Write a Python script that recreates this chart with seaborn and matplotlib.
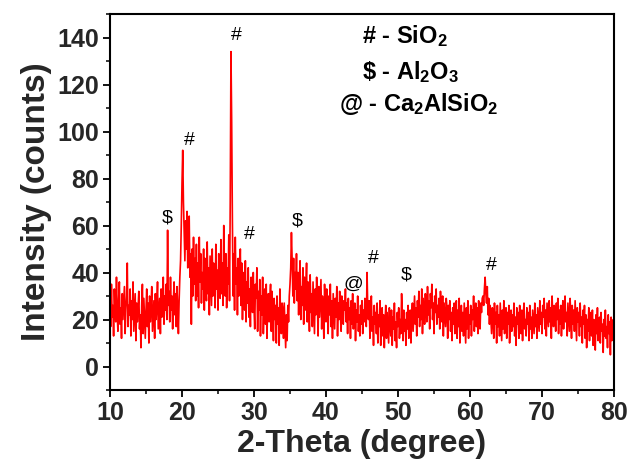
import numpy as np
import pandas as pd
import matplotlib
matplotlib.use("Agg")
import matplotlib.pyplot as plt
import seaborn as sns
from matplotlib.ticker import MultipleLocator

# 2-theta grid: 10 to 80 degrees, one reading every 0.1 degree
two_theta = np.round(np.linspace(10.0, 80.0, 701), 1)

# intensity, 10 readings per line (1 degree)
intensity = [
    30, 17, 35, 21, 26, 13, 33, 24, 19, 38,   # 10
    22, 15, 29, 36, 18, 25, 12, 31, 20, 27,   # 11
    34, 14, 24, 30, 44, 17, 26, 22, 33, 13,   # 12
    28, 20, 36, 15, 23, 31, 11, 27, 19, 25,   # 13
    32, 16, 22, 8, 26, 35, 14, 29, 21, 12,    # 14
    24, 33, 17, 27, 10, 30, 19, 25, 34, 15,   # 15
    22, 28, 12, 31, 20, 26, 36, 16, 23, 29,   # 16
    14, 33, 21, 27, 38, 18, 30, 24, 35, 20,   # 17
    58, 26, 32, 19, 38, 24, 30, 16, 28, 36,   # 18
    22, 31, 17, 34, 25, 14, 28, 38, 45, 60,   # 19
    78, 92, 70, 58, 45, 62, 50, 66, 42, 55,   # 20
    64, 38, 48, 18, 50, 30, 55, 35, 46, 28,   # 21
    52, 30, 44, 25, 55, 36, 48, 27, 40, 33,   # 22
    50, 24, 46, 34, 28, 53, 31, 42, 22, 47,   # 23
    36, 26, 50, 30, 44, 38, 25, 52, 33, 41,   # 24
    24, 48, 35, 29, 54, 31, 44, 26, 60, 37,   # 25
    30, 48, 25, 42, 35, 56, 28, 70, 134, 104, # 26
    62, 30, 48, 24, 55, 35, 42, 22, 46, 30,   # 27
    38, 50, 26, 44, 20, 40, 31, 24, 45, 19,   # 28
    36, 27, 42, 21, 33, 17, 38, 28, 23, 40,   # 29
    25, 16, 35, 29, 42, 15, 32, 24, 37, 13,   # 30
    30, 22, 38, 14, 27, 33, 18, 35, 12, 26,   # 31
    31, 19, 28, 35, 15, 32, 24, 11, 29, 20,   # 32
    26, 10, 30, 18, 25, 9, 33, 21, 14, 27,    # 33
    24, 12, 27, 17, 8, 22, 11, 26, 19, 30,    # 34
    35, 42, 57, 45, 30, 46, 27, 40, 33, 48,   # 35
    28, 40, 22, 37, 45, 20, 34, 26, 42, 18,   # 36
    38, 24, 33, 44, 19, 36, 27, 15, 39, 23,   # 37
    31, 17, 36, 25, 14, 33, 22, 38, 28, 13,   # 38
    34, 21, 29, 37, 16, 30, 24, 12, 35, 26,   # 39
    19, 33, 27, 14, 30, 22, 35, 17, 28, 12,   # 40
    31, 24, 16, 29, 21, 34, 13, 27, 20, 32,   # 41
    22, 15, 30, 26, 18, 28, 24, 33, 19, 27,   # 42
    14, 29, 20, 25, 12, 28, 18, 31, 16, 23,   # 43
    27, 11, 24, 19, 30, 15, 22, 13, 26, 18,   # 44
    28, 14, 24, 19, 29, 22, 17, 40, 25, 20,   # 45
    28, 12, 24, 30, 15, 21, 9, 26, 18, 23,    # 46
    14, 27, 10, 22, 17, 28, 9, 20, 25, 13,    # 47
    22, 8, 19, 26, 12, 23, 16, 10, 25, 18,    # 48
    13, 24, 9, 21, 16, 27, 11, 19, 8, 23,     # 49
    17, 25, 12, 20, 14, 31, 22, 11, 24, 15,   # 50
    20, 9, 23, 16, 26, 12, 19, 24, 10, 21,    # 51
    27, 15, 23, 30, 18, 25, 13, 28, 21, 32,   # 52
    17, 26, 20, 33, 14, 29, 23, 18, 31, 24,   # 53
    19, 34, 22, 28, 16, 31, 25, 35, 20, 27,   # 54
    14, 30, 23, 33, 18, 26, 21, 29, 16, 32,   # 55
    24, 19, 30, 13, 27, 22, 17, 29, 25, 12,   # 56
    26, 20, 28, 15, 23, 11, 25, 18, 27, 14,   # 57
    22, 28, 12, 24, 17, 29, 10, 21, 26, 15,   # 58
    23, 13, 27, 19, 10, 25, 16, 28, 12, 22,   # 59
    18, 26, 13, 24, 20, 30, 15, 22, 27, 17,   # 60
    25, 14, 28, 21, 16, 27, 23, 29, 30, 26,   # 61
    33, 38, 31, 27, 34, 22, 29, 18, 26, 20,   # 62
    14, 25, 21, 12, 27, 18, 23, 10, 26, 17,   # 63
    22, 13, 27, 19, 11, 24, 16, 28, 14, 21,   # 64
    25, 12, 23, 18, 26, 10, 20, 24, 15, 22,   # 65
    17, 27, 13, 21, 9, 25, 18, 23, 12, 26,    # 66
    19, 14, 24, 11, 22, 27, 16, 20, 13, 25,   # 67
    18, 23, 11, 26, 16, 21, 12, 24, 19, 14,   # 68
    27, 17, 22, 12, 25, 20, 15, 28, 18, 23,   # 69
    14, 26, 21, 29, 16, 24, 13, 27, 22, 17,   # 70
    28, 19, 25, 12, 30, 21, 17, 26, 23, 15,   # 71
    27, 20, 29, 14, 24, 18, 26, 13, 22, 28,   # 72
    16, 25, 30, 19, 23, 13, 27, 21, 15, 29,   # 73
    22, 12, 26, 18, 24, 15, 28, 20, 11, 25,   # 74
    19, 23, 13, 27, 17, 21, 10, 24, 18, 26,   # 75
    12, 22, 8, 20, 15, 25, 11, 23, 17, 13,    # 76
    24, 9, 20, 16, 7, 22, 14, 25, 11, 19,     # 77
    21, 10, 23, 15, 18, 6, 20, 13, 24, 12,    # 78
    17, 8, 22, 14, 19, 5, 21, 11, 16, 20,     # 79
    12,                                        # 80
]

# phase markers above the peaks
peak_symbols = ["$", "#", "#", "#", "$", "@", "#", "$", "#"]
peak_x = [17.9, 21.0, 27.5, 29.3, 36.0, 43.8, 46.6, 51.2, 62.9]
peak_y = [63, 96, 141, 56, 62, 35, 46, 39, 43]

legend_lines = ["# - SiO$_2$", "\\$ - Al$_2$O$_3$", "@ - Ca$_2$AlSiO$_2$"]
legend_x = [45.05, 45.05, 41.85]
legend_y = [140.7, 125.4, 111.7]

sns.set_theme(style="ticks")
plt.rcParams["font.family"] = ["Liberation Sans", "DejaVu Sans"]
plt.rcParams["mathtext.fontset"] = "custom"
plt.rcParams["mathtext.rm"] = "Liberation Sans:bold"
plt.rcParams["mathtext.bf"] = "Liberation Sans:bold"
plt.rcParams["mathtext.default"] = "bf"

df = pd.DataFrame({"two_theta": two_theta, "intensity": intensity})

fig = plt.figure(figsize=(6.3, 4.61), dpi=100)
ax = fig.add_axes([0.1746, 0.154, 0.80, 0.8156])

sns.lineplot(data=df, x="two_theta", y="intensity", color="red",
             linewidth=1.2, errorbar=None, ax=ax)

ax.set_xlim(10, 80)
ax.set_ylim(-10, 150)
ax.xaxis.set_major_locator(MultipleLocator(10))
ax.xaxis.set_minor_locator(MultipleLocator(5))
ax.yaxis.set_major_locator(MultipleLocator(20))
ax.yaxis.set_minor_locator(MultipleLocator(10))
ax.tick_params(which="major", direction="out", length=5, width=1.3,
               labelsize=18, color="black", pad=3)
ax.tick_params(which="minor", direction="out", length=3, width=1.1, color="black")
for lab in ax.get_xticklabels() + ax.get_yticklabels():
    lab.set_fontweight("bold")
for sp in ax.spines.values():
    sp.set_visible(True)
    sp.set_linewidth(1.5)
    sp.set_color("black")

ax.set_xlabel("2-Theta (degree)", fontsize=23, fontweight="bold", labelpad=3)
ax.set_ylabel("Intensity (counts)", fontsize=24, fontweight="bold", labelpad=4)

for s, xx, yy in zip(peak_symbols, peak_x, peak_y):
    ax.text(xx, yy, s, fontsize=14, ha="center", va="center", color="black")

for line, xx, yy in zip(legend_lines, legend_x, legend_y):
    ax.text(xx, yy, line, fontsize=17, fontweight="bold",
            ha="left", va="center", color="black")

fig.savefig("out.png", dpi=100, facecolor="white")
